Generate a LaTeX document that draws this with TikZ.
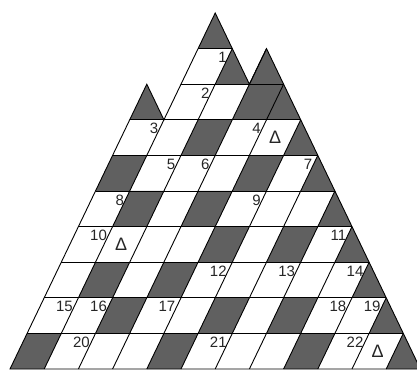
\documentclass[tikz,border=0pt]{standalone}
\usepackage{fontspec}
\setmainfont{Liberation Sans}
\usepackage{tikz}
\usetikzlibrary{positioning}
\definecolor{cellgray}{HTML}{606060}

\begin{document}
\begin{tikzpicture}[x={(34.2pt,0pt)},y={(17.1pt,35.6pt)},
  dark/.style={fill=cellgray},
  grid/.style={line width=0.9pt},
  num/.style={anchor=north east,inner sep=1pt,xshift=-4.5pt,yshift=-2.5pt,
    text=black!85,font=\fontsize{15}{15}\selectfont},
  delta/.style={inner sep=0pt,text=black!85,font=\fontsize{18}{18}\selectfont}]
  \useasboundingbox (-10pt,-3pt) rectangle (407pt,369pt);
  % shaded cells
  \foreach \i/\j in {0/0,4/0,8/0,2/1,5/1,7/1,1/2,3/2,4/3,6/3,1/4,3/4,0/5,4/5,2/6,3/7}
    \fill[dark] (\i,\j) -- ++(1,0) -- ++(0,1) -- ++(-1,0) -- cycle;
  % shaded corners and peaks
  \foreach \i/\j in {11/0,10/1,9/2,8/3,7/4,6/5,5/6,4/7,3/8,2/8,1/9,0/7}
    \fill[dark] (\i,\j) -- ++(1,0) -- ++(-1,1) -- cycle;
  % rows and slanted lines
  \foreach \j in {1,...,7}
    \draw[grid] (0,\j) -- (12-\j,\j);
  \draw[grid] (1,8) -- (4,8);
  \draw[grid] (1,9) -- (2,9);
  \foreach \i/\t in {1/7,2/9,3/9,4/8,5/7,6/6,7/5,8/4,9/3,10/2,11/1}
    \draw[grid] (\i,0) -- (\i,\t);
  \draw[grid] (0,0) -- (0,8) -- (1,7) -- (1,10) -- (3,8) -- (3,9) -- (12,0) -- cycle;
  % clue numbers
  \foreach \k/\i/\j in {1/2/9,2/2/8,3/1/7,4/4/7,5/2/6,6/3/6,7/6/6,8/1/5,9/5/5,
      10/1/4,11/8/4,12/5/3,13/7/3,14/9/3,15/1/2,16/2/2,17/4/2,18/9/2,19/10/2,
      20/2/1,21/6/1,22/10/1}
    \node[num] (n\k) at (\i,\j) {\k};
  \node[delta] (d1) at (4.5,6.5) {Δ};
  \node[delta] (d2) at (1.5,3.5) {Δ};
  \node[delta] (d3) at (10.5,0.5) {Δ};
\end{tikzpicture}
\end{document}
